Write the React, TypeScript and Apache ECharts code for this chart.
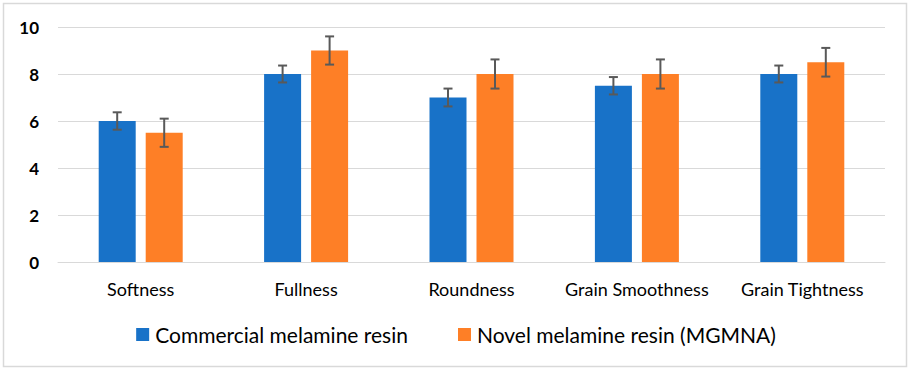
import React, { useEffect, useRef } from "react";
import * as echarts from "echarts";

const categories = ["Softness", "Fullness", "Roundness", "Grain Smoothness", "Grain Tightness"];
const seriesNames = ["Commercial melamine resin", "Novel melamine resin (MGMNA)"];
const commercialValues = [6, 8, 7, 7.5, 8];
const commercialErrors = [0.37, 0.36, 0.38, 0.37, 0.36];
const novelValues = [5.5, 9, 8, 8, 8.5];
const novelErrors = [0.6, 0.6, 0.62, 0.62, 0.61];
const yTicks = { min: 0, max: 10, interval: 2 };

const BLUE = "#1872C8";
const ORANGE = "#FE7F26";
const ERR = "#595959";
const FONT = "Lato, 'Open Sans', sans-serif";
const BAR_W = 37;
const BAR_GAP = 10;

function errorSeries(values: number[], errors: number[], offset: number) {
  return {
    type: "custom",
    silent: true,
    z: 5,
    encode: { x: 0, y: 1 },
    data: values.map((v, i) => [i, v, v - errors[i], v + errors[i]]),
    renderItem: (params: any, api: any) => {
      const i = api.value(0);
      const lo = api.coord([i, api.value(2)]);
      const hi = api.coord([i, api.value(3)]);
      const x = lo[0] + offset;
      const cap = 4.5;
      const style = { stroke: ERR, lineWidth: 2 };
      return {
        type: "group",
        children: [
          { type: "line", shape: { x1: x, y1: hi[1], x2: x, y2: lo[1] }, style },
          { type: "line", shape: { x1: x - cap, y1: hi[1], x2: x + cap, y2: hi[1] }, style },
          { type: "line", shape: { x1: x - cap, y1: lo[1], x2: x + cap, y2: lo[1] }, style },
        ],
      };
    },
  };
}

export default function App() {
  const ref = useRef<HTMLDivElement>(null);
  useEffect(() => {
    document.body.style.margin = "0";
    const chart = echarts.init(ref.current!, null, { renderer: "svg" });
    const off = (BAR_W + BAR_GAP) / 2;
    chart.setOption({
      animation: false,
      backgroundColor: "#ffffff",
      graphic: [
        {
          type: "rect",
          shape: { x: 3.5, y: 3.5, width: 903, height: 363 },
          style: { fill: "none", stroke: "#d9d9d9", lineWidth: 1.5 },
          silent: true,
        },
      ],
      grid: { left: 58, right: 27, top: 27, bottom: 110 },
      legend: {
        data: seriesNames,
        top: 319,
        left: "center",
        icon: "rect",
        itemWidth: 13,
        itemHeight: 13,
        itemGap: 50,
        itemStyle: { borderWidth: 0 },
        textStyle: { fontFamily: FONT, fontSize: 21, color: "#000", padding: [0, 0, 0, 1] },
      },
      xAxis: {
        type: "category",
        data: categories,
        axisLine: { lineStyle: { color: "#d9d9d9", width: 1 } },
        axisTick: { show: false },
        axisLabel: { fontFamily: FONT, fontSize: 18, color: "#000", margin: 18, interval: 0 },
      },
      yAxis: {
        type: "value",
        min: yTicks.min,
        max: yTicks.max,
        interval: yTicks.interval,
        axisLine: { show: false },
        axisTick: { show: false },
        splitLine: { lineStyle: { color: "#d9d9d9", width: 1 } },
        axisLabel: { fontFamily: FONT, fontSize: 17, fontWeight: "bold", color: "#000", margin: 19 },
      },
      series: [
        {
          name: seriesNames[0],
          type: "bar",
          data: commercialValues,
          barWidth: BAR_W,
          barGap: `${(BAR_GAP / BAR_W) * 100}%`,
          itemStyle: { color: BLUE },
        },
        {
          name: seriesNames[1],
          type: "bar",
          data: novelValues,
          barWidth: BAR_W,
          itemStyle: { color: ORANGE },
        },
        errorSeries(commercialValues, commercialErrors, -off),
        errorSeries(novelValues, novelErrors, off),
      ],
    });
    return () => chart.dispose();
  }, []);
  return <div ref={ref} style={{ width: 912, height: 372 }} />;
}
